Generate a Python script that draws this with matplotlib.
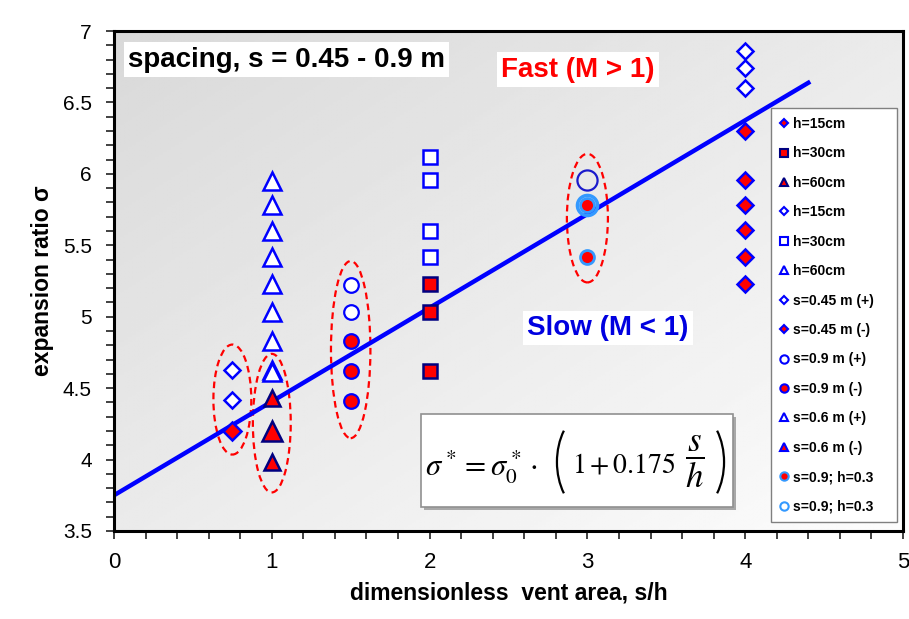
import matplotlib
matplotlib.use("Agg")
import matplotlib.pyplot as plt
import matplotlib.ticker as mticker
import numpy as np
from matplotlib.lines import Line2D
from matplotlib.patches import Arc, Ellipse, Rectangle

plt.rcParams["font.family"] = ["Liberation Sans", "DejaVu Sans"]
plt.rcParams["mathtext.fontset"] = "stix"

# fit parameters of sigma* = sigma0* (1 + k s/h)
sigma0 = 3.75
k_fit = 0.175
fit_x_max = 4.4

# h-series (legend rows 1-6)
h15_fill_x = [4, 4, 4, 4, 4, 4]
h15_fill_y = [6.30, 5.96, 5.78, 5.61, 5.42, 5.23]
h30_fill_x = [2, 2, 2]
h30_fill_y = [5.23, 5.03, 4.62]
h60_fill_x = [1]
h60_fill_y = [4.20]
h15_open_x = [4, 4, 4]
h15_open_y = [6.86, 6.74, 6.60]
h30_open_x = [2, 2, 2, 2]
h30_open_y = [6.12, 5.96, 5.60, 5.42]
h60_open_x = [1, 1, 1, 1, 1, 1, 1, 1]
h60_open_y = [5.95, 5.78, 5.60, 5.42, 5.23, 5.03, 4.83, 4.63]

# spacing series (legend rows 7-14)
s045_pos_x = [0.75, 0.75]
s045_pos_y = [4.63, 4.42]
s045_neg_x = [0.75]
s045_neg_y = [4.20]
s09_pos_x = [1.5, 1.5]
s09_pos_y = [5.22, 5.03]
s09_neg_x = [1.5, 1.5, 1.5]
s09_neg_y = [4.83, 4.62, 4.41]
s06_pos_x = [1]
s06_pos_y = [4.61]
s06_neg_x = [1, 1]
s06_neg_y = [4.43, 3.98]
s09h03_fill_x = [3, 3]
s09h03_fill_y = [5.78, 5.42]
s09h03_open_x = [3]
s09h03_open_y = [5.78]
s3_open_x = [3]
s3_open_y = [5.96]

# dashed groupings: (x centre, y centre, width, height)
groups = [
    (0.75, 4.42, 0.24, 0.77),
    (1.00, 4.255, 0.24, 0.97),
    (1.50, 4.77, 0.25, 1.24),
    (3.00, 5.69, 0.26, 0.90),
]

RED = "#ff0000"
BLUE = "#0000ff"
NAVY = "#000080"
LBLUE = "#3399ff"

fig = plt.figure(figsize=(9.09, 6.19), dpi=100)
ax = fig.add_axes([114 / 909, 1 - 531 / 619, 789 / 909, 500 / 619])

# grey diagonal shading behind the data
gx, gy = np.meshgrid(np.linspace(0, 1, 200), np.linspace(0, 1, 200))
shade = 0.85 + 0.14 * (gx + gy) / 2
ax.imshow(shade, cmap="gray", vmin=0, vmax=1, extent=[0, 1, 0, 1],
          transform=ax.transAxes, aspect="auto", origin="upper", zorder=0)

ax.set_xlim(0, 5)
ax.set_ylim(3.5, 7)

for cx, cy, w, h in groups:
    ax.add_patch(Ellipse((cx, cy), w, h, fill=False, ec=RED, lw=1.6,
                         ls=(0, (3, 2)), zorder=2))

fx = np.array([0, fit_x_max])
ax.plot(fx, sigma0 * (1 + k_fit * fx), color=BLUE, lw=3.2, zorder=3)


def pts(x, y, m, fc, ec, ms, mew=1.8, z=4):
    ax.plot(x, y, ls="none", marker=m, mfc=fc, mec=ec, ms=ms, mew=mew, zorder=z)


pts(h15_open_x, h15_open_y, "D", "white", BLUE, 8.5)
pts(h15_fill_x, h15_fill_y, "D", RED, BLUE, 8.5)
pts(h30_open_x, h30_open_y, "s", "white", BLUE, 10.5)
pts(h30_fill_x, h30_fill_y, "s", RED, NAVY, 10.5)
pts(h60_open_x, h60_open_y, "^", "white", BLUE, 13)
pts(s06_pos_x, s06_pos_y, "^", "white", BLUE, 13)
pts(h60_fill_x, h60_fill_y, "^", RED, NAVY, 15)
pts(s06_neg_x, s06_neg_y, "^", RED, NAVY, 12)
pts(s045_pos_x, s045_pos_y, "D", "white", BLUE, 8.5)
pts(s045_neg_x, s045_neg_y, "D", RED, BLUE, 9.5)
pts(s09_pos_x, s09_pos_y, "o", "white", BLUE, 10.5, 1.6)
pts(s09_neg_x, s09_neg_y, "o", RED, BLUE, 10.5, 1.6)
pts(s3_open_x, s3_open_y, "o", "none", "#1a1acc", 14.5, 1.6)
pts(s09h03_open_x, s09h03_open_y, "o", "none", LBLUE, 14.5, 2.5)
pts(s09h03_fill_x, s09h03_fill_y, "o", RED, LBLUE, 10, 2.0, z=5)

bold = dict(fontweight="bold", fontsize=20)
ax.text(0.09, 6.80, "spacing, s = 0.45 - 0.9 m", color="black", va="center", ha="left",
        bbox=dict(fc="white", ec="none", pad=3), zorder=6, **bold)
ax.text(2.94, 6.73, "Fast (M > 1)", color=RED, va="center", ha="center",
        bbox=dict(fc="white", ec="none", pad=3), zorder=6, **bold)
ax.text(3.13, 4.92, "Slow (M < 1)", color="#0000e0", va="center", ha="center",
        bbox=dict(fc="white", ec="none", pad=3), zorder=6, **bold)

# formula panel with drop shadow
ax.add_patch(Rectangle((1.966, 3.647), 1.977, 0.651, fc="#a8a8a8", ec="none", zorder=6))
ax.add_patch(Rectangle((1.946, 3.668), 1.977, 0.651, fc="white", ec="#909090", lw=1.2, zorder=7))
ax.text(1.971, 3.983, r"$\sigma^* = \sigma_0^* \cdot$", fontsize=22,
        ha="left", va="center_baseline", zorder=8)
ax.text(2.905, 3.983, r"$1 + 0.175$", fontsize=20,
        ha="left", va="center_baseline", zorder=8)
ax.text(3.683, 3.985, r"$\dfrac{s}{h}$", fontsize=25, ha="center", va="center", zorder=8)
ax.add_patch(Arc((3.035, 3.983), 0.456, 0.742, theta1=130, theta2=230,
                 color="black", lw=1.6, zorder=8))
ax.add_patch(Arc((3.638, 3.983), 0.456, 0.742, theta1=-50, theta2=50,
                 color="black", lw=1.6, zorder=8))

ax.xaxis.set_major_locator(mticker.MultipleLocator(1))
ax.xaxis.set_minor_locator(mticker.MultipleLocator(0.2))
ax.yaxis.set_major_locator(mticker.MultipleLocator(0.5))
ax.yaxis.set_minor_locator(mticker.MultipleLocator(0.1))
ax.yaxis.set_major_formatter(mticker.FuncFormatter(lambda v, p: f"{v:g}"))
ax.tick_params(which="both", direction="out", length=6, width=1.3, color="#333333")
ax.tick_params(axis="x", labelsize=16, pad=9)
ax.tick_params(axis="y", labelsize=15, pad=10)
for sp in ax.spines.values():
    sp.set_linewidth(2.2)
    sp.set_zorder(10)

ax.set_xlabel("dimensionless  vent area, s/h", fontsize=16.5, fontweight="bold", labelpad=6)
ax.set_ylabel("expansion ratio σ", fontsize=16.5, fontweight="bold", labelpad=6)

legend_rows = [
    ("D", RED, BLUE, "h=15cm"),
    ("s", RED, NAVY, "h=30cm"),
    ("^", RED, NAVY, "h=60cm"),
    ("D", "white", BLUE, "h=15cm"),
    ("s", "white", BLUE, "h=30cm"),
    ("^", "white", BLUE, "h=60cm"),
    ("D", "white", BLUE, "s=0.45 m (+)"),
    ("D", RED, BLUE, "s=0.45 m (-)"),
    ("o", "white", BLUE, "s=0.9 m (+)"),
    ("o", RED, BLUE, "s=0.9 m (-)"),
    ("^", "white", BLUE, "s=0.6 m (+)"),
    ("^", RED, BLUE, "s=0.6 m (-)"),
    ("o", RED, LBLUE, "s=0.9; h=0.3"),
    ("o", "white", LBLUE, "s=0.9; h=0.3"),
]
handles = [Line2D([], [], ls="none", marker=m, mfc=fc, mec=ec, mew=1.5,
                  ms=4.5 if m == "D" else 6) for m, fc, ec, _ in legend_rows]
leg = ax.legend(handles, [r[3] for r in legend_rows], loc="upper left", mode="expand",
                bbox_to_anchor=(771 / 909, 1 - 520 / 619, 126 / 909, 412 / 619),
                bbox_transform=fig.transFigure,
                prop=dict(weight="bold", size=10), labelspacing=1.11, handlelength=0.6,
                handletextpad=0.3, borderpad=0.65, borderaxespad=0, fancybox=False,
                framealpha=1, edgecolor="#808080")
leg.get_frame().set_linewidth(1.0)
leg.set_zorder(9)

fig.savefig("out.png", dpi=100)
